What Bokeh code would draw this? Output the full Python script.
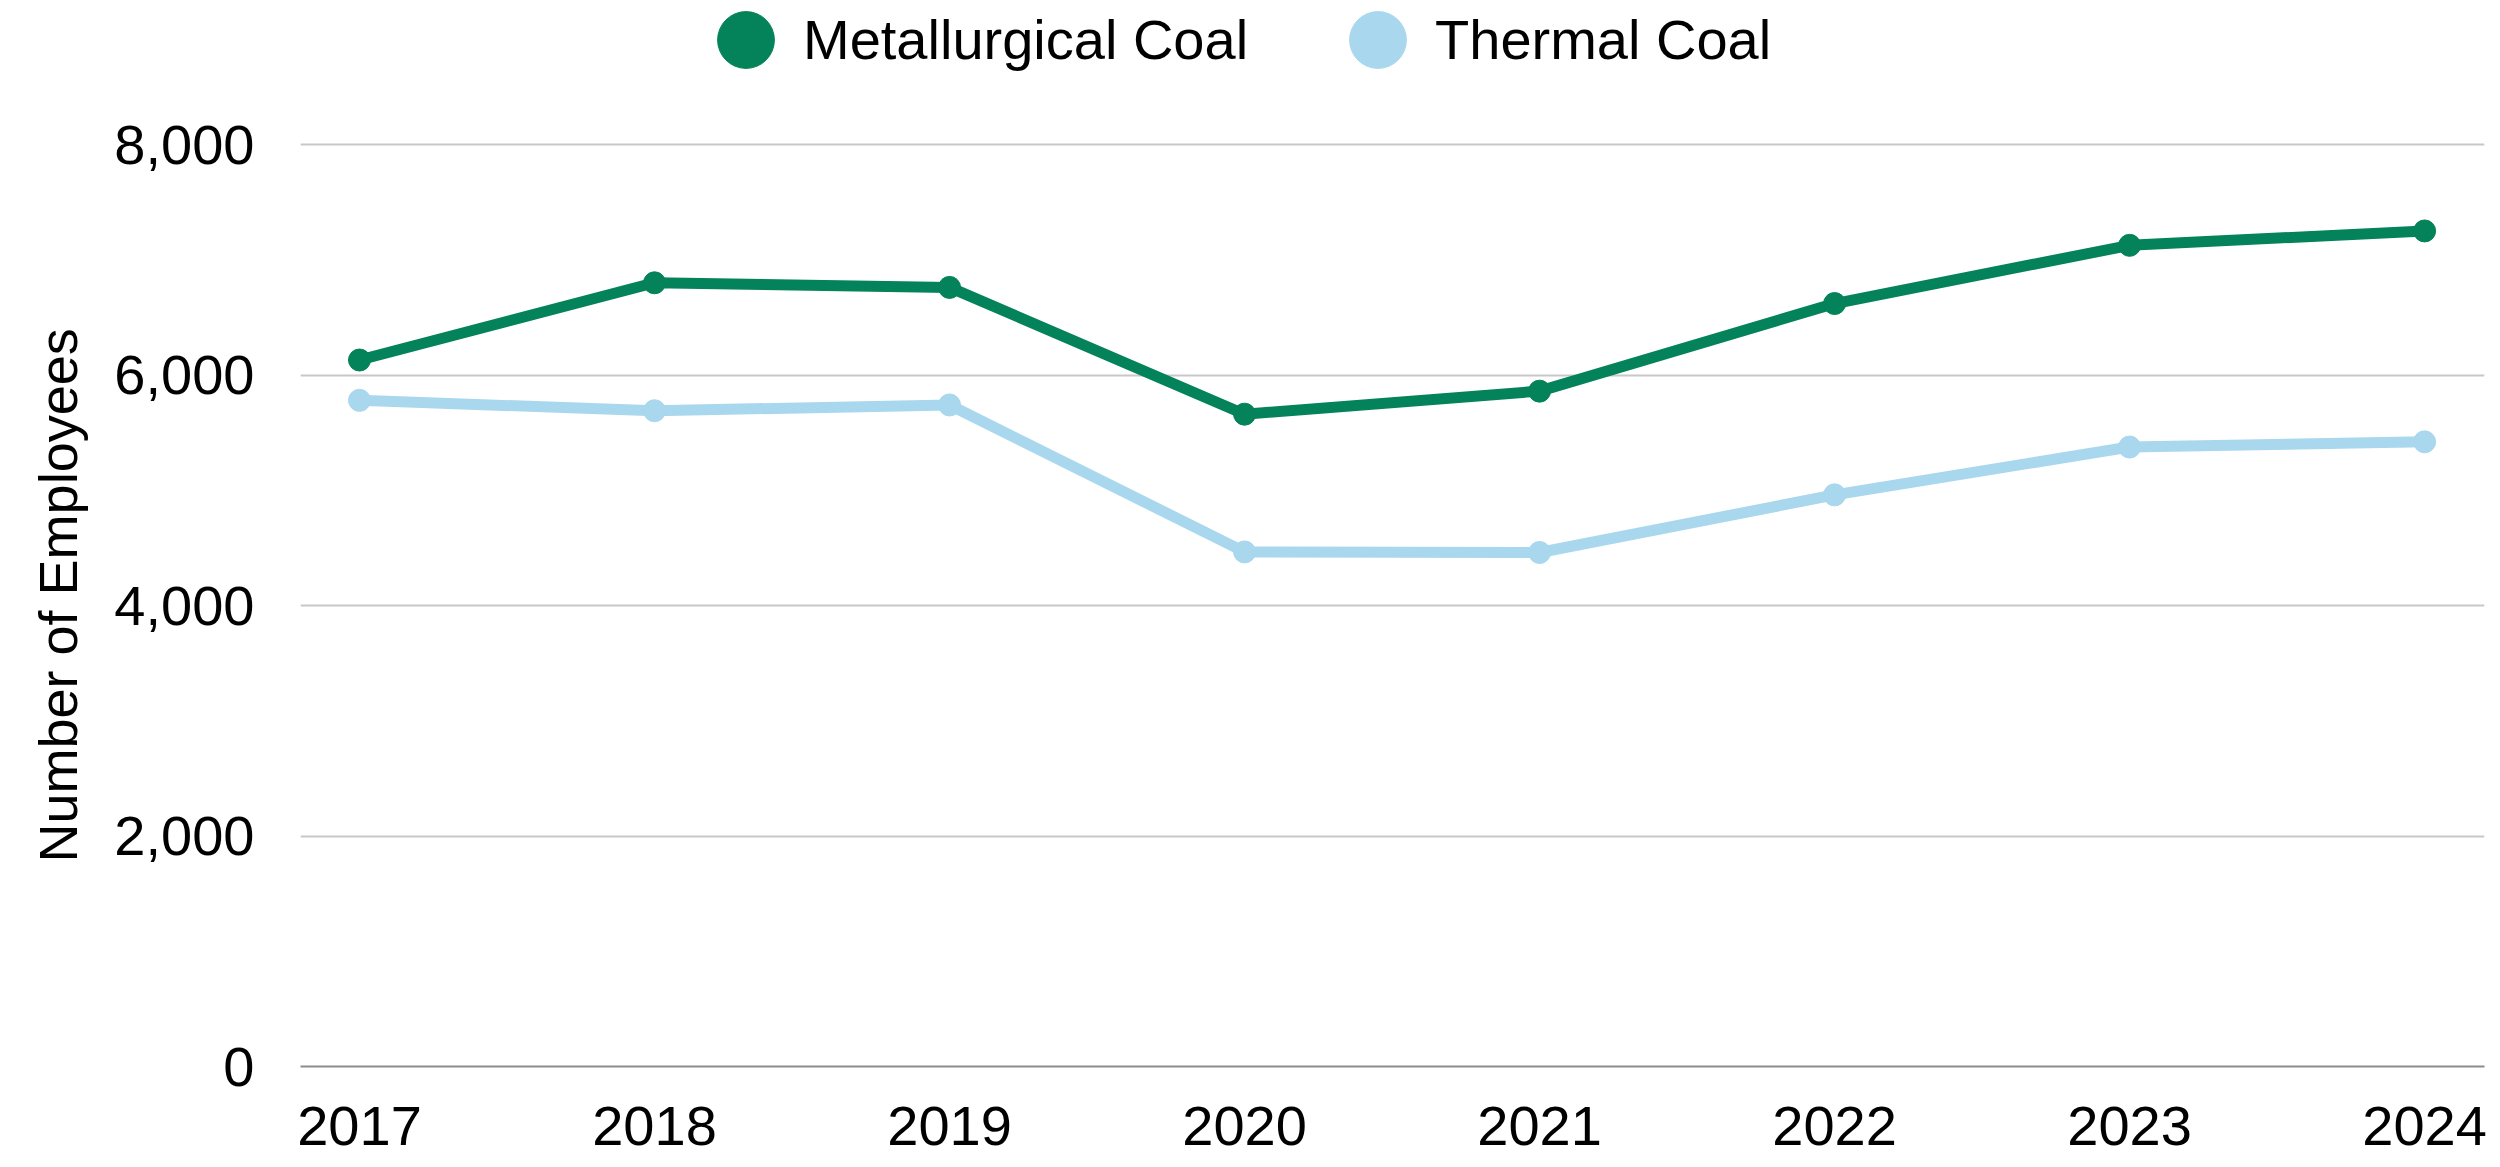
from bokeh.plotting import figure
from bokeh.models import Range1d, FixedTicker, NumeralTickFormatter, Legend, LegendItem, Title
from bokeh.embed import file_html
from bokeh.resources import INLINE

# ---- data ----
years = [2017, 2018, 2019, 2020, 2021, 2022, 2023, 2024]
year_labels = ["2017", "2018", "2019", "2020", "2021", "2022", "2023", "2024"]
metallurgical = [6130, 6800, 6760, 5660, 5860, 6620, 7125, 7250]
thermal = [5780, 5690, 5740, 4465, 4460, 4960, 5375, 5420]
y_ticks = [0, 2000, 4000, 6000, 8000]
series_names = ["Metallurgical Coal", "Thermal Coal"]
series_colors = ["#04825A", "#A8D7EE"]
y_title = "Number of Employees"

FONT = "Liberation Sans"

# layout: frame spans the full height above the x axis so the legend
# (drawn in the frame) sits in the headroom above the 8,000 gridline
H, W = 1167, 2500
BOTTOM = 101
TOP_TICK_PX = 144           # screen y of the 8,000 gridline
frame_h = H - BOTTOM
y_top = y_ticks[-1] * frame_h / (frame_h - TOP_TICK_PX)

p = figure(
    width=W, height=H,
    x_range=Range1d(2016.8, 2024.203),
    y_range=Range1d(0, y_top),
    output_backend="svg", toolbar_location=None,
    min_border_left=300, min_border_right=16,
    min_border_top=0, min_border_bottom=BOTTOM,
)
p.outline_line_color = None
p.background_fill_color = "white"
p.border_fill_color = "white"

# grid
p.xgrid.grid_line_color = None
p.ygrid.ticker = FixedTicker(ticks=y_ticks)
p.ygrid.grid_line_color = "#C8C8C8"
p.ygrid.grid_line_width = 2

# x axis
p.xaxis.ticker = FixedTicker(ticks=years)
p.xaxis.major_label_overrides = {y: s for y, s in zip(years, year_labels)}
p.xaxis.axis_line_color = "#8C8C8C"
p.xaxis.axis_line_width = 2
p.xaxis.major_tick_line_color = None
p.xaxis.minor_tick_line_color = None
p.xaxis.major_label_standoff = 34
p.xaxis.major_label_text_font = FONT
p.xaxis.major_label_text_font_size = "56px"
p.xaxis.major_label_text_color = "black"

# y axis
p.yaxis.ticker = FixedTicker(ticks=y_ticks)
p.yaxis.formatter = NumeralTickFormatter(format="0,0")
p.yaxis.axis_line_color = None
p.yaxis.major_tick_line_color = None
p.yaxis.minor_tick_line_color = None
p.yaxis.major_label_standoff = 40
p.yaxis.major_label_text_font = FONT
p.yaxis.major_label_text_font_size = "56px"
p.yaxis.major_label_text_color = "black"

# y-axis title, positioned along the 0..8,000 part of the frame
ytitle = Title(
    text=y_title, align="left", vertical_align="top",
    offset=204, standoff=44,
    text_font=FONT, text_font_size="54px", text_font_style="normal",
    text_color="black",
)
p.add_layout(ytitle, "left")

# series
items = []
for name, vals, col in zip(series_names, [metallurgical, thermal], series_colors):
    p.line(years, vals, line_color=col, line_width=11)
    mk = p.ellipse(x=years, y=vals, width=22, height=22,
                   width_units="screen", height_units="screen",
                   fill_color=col, line_color=col)
    items.append(LegendItem(label=name, renderers=[mk]))

legend = Legend(
    items=items,
    orientation="horizontal",
    location=(410, 991),
    glyph_width=71, glyph_height=71,
    label_standoff=22,
    spacing=94,
    padding=0, margin=0,
    border_line_color=None,
    background_fill_alpha=0,
    label_text_font=FONT,
    label_text_font_size="56px",
    label_text_color="black",
)
p.add_layout(legend, "center")

open("out.html", "w").write(file_html(p, INLINE))
